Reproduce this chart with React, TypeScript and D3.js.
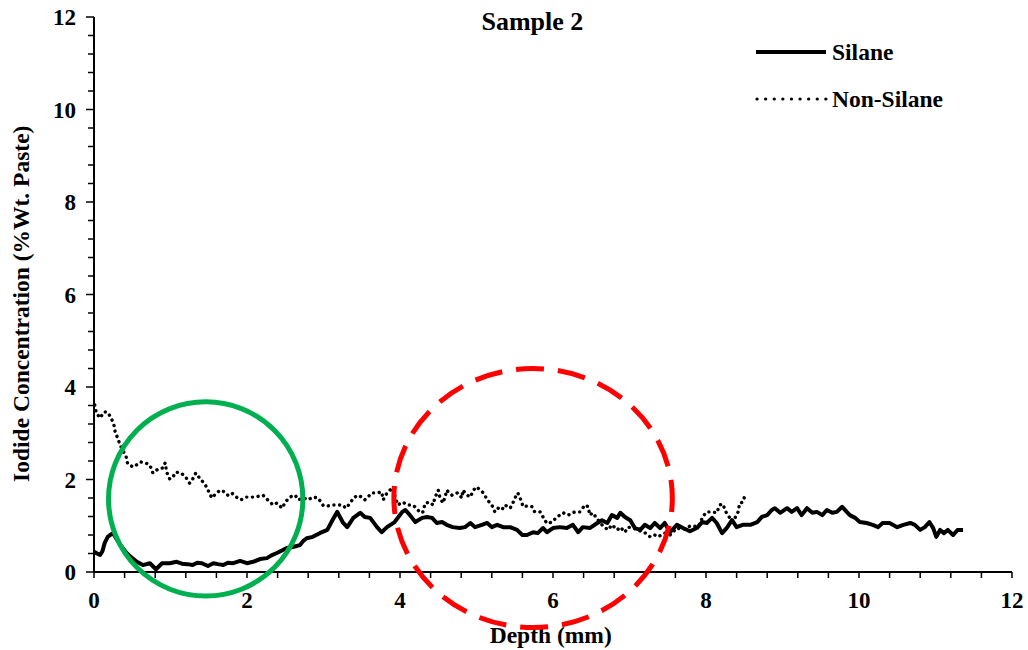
import React from "react";
import * as d3 from "d3";

const title = "Sample 2";
const xTitle = "Depth (mm)";
const yTitle = "Iodide Concentration (%Wt. Paste)";
const seriesNames = ["Silane", "Non-Silane"];
const xTicks = [0, 2, 4, 6, 8, 10, 12];
const yTicks = [0, 2, 4, 6, 8, 10, 12];
const minorStep = 0.4;

const silane: [number, number][] = [
  [0, 0.44], [0.04, 0.4], [0.08, 0.37], [0.11, 0.45], [0.14, 0.63], [0.18, 0.76], [0.21, 0.8], [0.25, 0.84], [0.3, 0.7], [0.36, 0.55], [0.42, 0.42],
  [0.5, 0.3], [0.56, 0.22], [0.64, 0.15], [0.73, 0.19], [0.81, 0.06], [0.89, 0.19], [0.99, 0.19], [1.08, 0.22], [1.15, 0.18], [1.22, 0.17],
  [1.29, 0.15], [1.35, 0.2], [1.41, 0.19], [1.49, 0.13], [1.56, 0.19], [1.62, 0.17], [1.69, 0.15], [1.75, 0.2], [1.82, 0.19], [1.91, 0.24], [2.0, 0.19],
  [2.08, 0.22], [2.17, 0.28], [2.26, 0.3], [2.32, 0.36], [2.39, 0.41], [2.45, 0.46], [2.52, 0.52], [2.6, 0.54], [2.69, 0.58], [2.74, 0.68], [2.78, 0.73],
  [2.86, 0.76], [2.95, 0.84], [3.05, 0.91], [3.12, 1.13], [3.18, 1.3], [3.25, 1.08], [3.31, 0.97], [3.39, 1.17],
  [3.48, 1.28], [3.54, 1.19], [3.61, 1.17], [3.7, 0.97], [3.76, 0.86], [3.83, 0.97], [3.93, 1.08], [4.03, 1.3],
  [4.07, 1.34], [4.13, 1.23], [4.2, 1.08], [4.29, 1.17], [4.35, 1.19], [4.42, 1.17], [4.48, 1.06], [4.55, 1.08],
  [4.61, 1.02], [4.69, 0.97], [4.78, 0.95], [4.85, 0.97], [4.92, 1.06], [4.98, 0.97], [5.07, 1.02], [5.14, 1.06],
  [5.2, 0.97], [5.27, 1.02], [5.35, 0.97], [5.44, 0.97], [5.53, 0.91], [5.6, 0.8], [5.66, 0.8], [5.74, 0.86],
  [5.8, 0.84], [5.87, 0.95], [5.92, 0.86], [6.0, 0.95], [6.09, 0.97], [6.18, 0.95], [6.26, 1.02], [6.33, 0.86],
  [6.39, 0.97], [6.48, 0.95], [6.58, 1.06], [6.64, 1.12], [6.71, 1.06], [6.77, 1.23], [6.84, 1.17], [6.88, 1.28],
  [6.94, 1.19], [7.01, 1.12], [7.07, 0.95], [7.14, 0.91], [7.2, 1.02], [7.27, 0.95], [7.33, 1.06], [7.4, 0.95],
  [7.46, 1.06], [7.53, 0.86], [7.62, 1.02], [7.7, 0.95], [7.79, 0.88], [7.88, 0.95], [7.95, 1.08], [8.01, 1.06],
  [8.08, 1.17], [8.14, 1.06], [8.21, 0.84], [8.27, 0.95], [8.34, 1.12], [8.4, 0.97], [8.48, 1.02], [8.58, 1.02],
  [8.67, 1.08], [8.73, 1.19], [8.8, 1.23], [8.86, 1.34], [8.9, 1.38], [8.97, 1.28], [9.06, 1.38], [9.12, 1.3],
  [9.19, 1.38], [9.25, 1.23], [9.32, 1.38], [9.39, 1.28], [9.45, 1.3], [9.52, 1.23], [9.58, 1.34], [9.65, 1.28],
  [9.71, 1.3], [9.78, 1.41], [9.84, 1.3], [9.88, 1.23], [9.95, 1.17], [10.01, 1.08], [10.1, 1.06], [10.18, 1.02],
  [10.25, 0.97], [10.31, 1.06], [10.4, 1.06], [10.5, 0.97], [10.58, 1.02], [10.67, 1.06], [10.73, 1.02], [10.8, 0.91],
  [10.86, 0.97], [10.92, 1.08], [10.97, 0.95], [11.01, 0.76], [11.06, 0.91], [11.11, 0.84], [11.16, 0.91], [11.23, 0.8],
  [11.29, 0.91], [11.36, 0.91],
];

const nonSilane: [number, number][] = [
  [0.01, 3.61], [0.03, 3.44], [0.08, 3.33], [0.13, 3.46], [0.17, 3.46], [0.22, 3.35], [0.26, 3.18], [0.28, 3.0],
  [0.31, 2.9], [0.34, 2.75], [0.38, 2.62], [0.42, 2.49], [0.44, 2.34], [0.51, 2.27], [0.58, 2.34], [0.61, 2.38],
  [0.67, 2.36], [0.73, 2.31], [0.77, 2.14], [0.84, 2.23], [0.9, 2.25], [0.93, 2.36], [0.95, 2.16], [0.99, 2.01],
  [1.03, 2.05], [1.07, 2.16], [1.14, 2.14], [1.2, 2.05], [1.25, 1.92], [1.29, 2.01], [1.33, 2.14], [1.39, 2.01],
  [1.45, 1.9], [1.49, 1.77], [1.54, 1.6], [1.59, 1.69], [1.65, 1.77], [1.71, 1.73], [1.75, 1.66], [1.8, 1.71],
  [1.86, 1.62], [1.92, 1.56], [1.99, 1.62], [2.04, 1.62], [2.1, 1.62], [2.21, 1.66], [2.27, 1.56], [2.34, 1.45],
  [2.39, 1.49], [2.46, 1.38], [2.5, 1.51], [2.56, 1.62], [2.63, 1.66], [2.67, 1.56], [2.74, 1.6], [2.8, 1.56],
  [2.86, 1.62], [2.93, 1.6], [3.0, 1.43], [3.06, 1.43], [3.12, 1.45], [3.19, 1.45], [3.25, 1.45], [3.29, 1.38],
  [3.35, 1.49], [3.39, 1.6], [3.45, 1.66], [3.5, 1.62], [3.54, 1.56], [3.58, 1.62], [3.63, 1.71], [3.7, 1.71],
  [3.76, 1.73], [3.78, 1.56], [3.83, 1.71], [3.9, 1.82], [3.97, 1.45], [4.04, 1.51], [4.09, 1.45], [4.16, 1.45],
  [4.22, 1.38], [4.26, 1.28], [4.3, 1.3], [4.33, 1.49], [4.39, 1.51], [4.43, 1.45], [4.46, 1.62], [4.5, 1.77],
  [4.52, 1.62], [4.56, 1.49], [4.59, 1.62], [4.61, 1.77], [4.68, 1.66], [4.75, 1.71], [4.81, 1.6], [4.82, 1.77],
  [4.88, 1.66], [4.92, 1.62], [4.96, 1.77], [5.0, 1.84], [5.05, 1.77], [5.09, 1.71], [5.14, 1.56], [5.2, 1.45],
  [5.24, 1.3], [5.28, 1.38], [5.33, 1.34], [5.37, 1.45], [5.44, 1.38], [5.48, 1.51], [5.52, 1.66], [5.54, 1.71],
  [5.58, 1.56], [5.61, 1.41], [5.67, 1.43], [5.73, 1.41], [5.76, 1.3], [5.83, 1.3], [5.87, 1.19], [5.92, 1.05],
  [5.99, 1.08], [6.05, 1.19], [6.09, 1.23], [6.13, 1.28], [6.2, 1.23], [6.25, 1.28], [6.29, 1.3], [6.35, 1.3],
  [6.42, 1.45], [6.46, 1.41], [6.48, 1.23], [6.52, 1.28], [6.59, 1.12], [6.65, 1.0], [6.72, 0.91], [6.77, 1.02],
  [6.84, 0.91], [6.88, 0.97], [6.94, 0.86], [6.98, 0.97], [7.05, 0.95], [7.12, 0.9], [7.2, 0.85], [7.27, 0.76],
  [7.33, 0.8], [7.37, 0.76], [7.42, 0.8], [7.46, 0.84], [7.53, 0.8], [7.62, 0.95], [7.7, 0.92], [7.8, 1.0],
  [7.9, 0.98], [7.96, 1.2], [8.01, 1.3], [8.08, 1.3], [8.14, 1.28], [8.18, 1.45], [8.22, 1.47], [8.26, 1.3],
  [8.31, 1.17], [8.35, 1.08], [8.42, 1.3], [8.44, 1.49], [8.48, 1.51], [8.51, 1.66],
];

// annotation ellipses in data units: [cx, cy, rx, ry]
const greenCircle = [1.46, 1.58, 1.27, 2.1];
const redEllipse = [5.74, 1.6, 1.82, 2.8];

const W = 1028;
const H = 650;
const FONT = "'Liberation Serif', 'Times New Roman', serif";

export default function App() {
  const x = d3.scaleLinear().domain([0, 12]).range([94, 1012]);
  const y = d3.scaleLinear().domain([0, 12]).range([572, 17]);
  const line = d3
    .line<[number, number]>()
    .x((d) => x(d[0]))
    .y((d) => y(d[1]));
  const minor = d3.range(0, 12 + 1e-9, minorStep);

  const ell = (a: number[], color: string, dash?: string) => (
    <ellipse
      cx={x(a[0])}
      cy={y(a[1])}
      rx={x(a[2]) - x(0)}
      ry={y(0) - y(a[3])}
      fill="none"
      stroke={color}
      strokeWidth={5}
      strokeDasharray={dash}
      strokeDashoffset={dash ? 14 : undefined}
    />
  );

  return (
    <svg
      width={W}
      height={H}
      style={{ position: "absolute", left: 0, top: 0, background: "#fff" }}
      fontFamily={FONT}
      fontWeight="bold"
    >
      <rect width={W} height={H} fill="#fff" />
      {/* axes */}
      <line x1={x(0)} x2={x(0)} y1={y(12)} y2={y(0)} stroke="#000" strokeWidth={2} />
      <line x1={x(0)} x2={x(12)} y1={y(0)} y2={y(0)} stroke="#000" strokeWidth={2} />
      {minor.map((v, i) => {
        const major = Math.abs(v / 2 - Math.round(v / 2)) < 1e-6;
        return (
          <g key={i}>
            <line x1={x(0) - (major ? 8 : 6)} x2={x(0)} y1={y(v)} y2={y(v)} stroke="#000" strokeWidth={1.5} />
            <line x1={x(v)} x2={x(v)} y1={y(0)} y2={y(0) + 6} stroke="#000" strokeWidth={1.5} />
          </g>
        );
      })}
      {yTicks.map((v) => (
        <text key={"y" + v} x={x(0) - 18} y={y(v)} dy="0.35em" textAnchor="end" fontSize={23}>
          {v}
        </text>
      ))}
      {xTicks.map((v) => (
        <text key={"x" + v} x={x(v)} y={y(0) + 36} textAnchor="middle" fontSize={23}>
          {v}
        </text>
      ))}
      <text x={x(5.97)} y={643} textAnchor="middle" fontSize={23.5}>
        {xTitle}
      </text>
      <text transform={`translate(29,${y(5.8)}) rotate(-90)`} textAnchor="middle" fontSize={23.5}>
        {yTitle}
      </text>
      <text x={x(5.73)} y={30} textAnchor="middle" fontSize={26}>
        {title}
      </text>
      {/* series */}
      <path d={line(nonSilane) || ""} fill="none" stroke="#000" strokeWidth={3.4} strokeLinecap="round" strokeDasharray="0.1 5.6" />
      <path d={line(silane) || ""} fill="none" stroke="#000" strokeWidth={4} strokeLinejoin="round" />
      {/* legend */}
      <line x1={756} x2={826} y1={52} y2={52} stroke="#000" strokeWidth={4} />
      <text x={832} y={60} fontSize={23.5}>{seriesNames[0]}</text>
      <line x1={757} x2={826} y1={99} y2={99} stroke="#000" strokeWidth={3.2} strokeLinecap="round" strokeDasharray="0.1 8.5" />
      <text x={832} y={107} fontSize={23.5}>{seriesNames[1]}</text>
      {/* annotations */}
      {ell(greenCircle, "#00b050")}
      {ell(redEllipse, "#ff0000", "28 14")}
    </svg>
  );
}
